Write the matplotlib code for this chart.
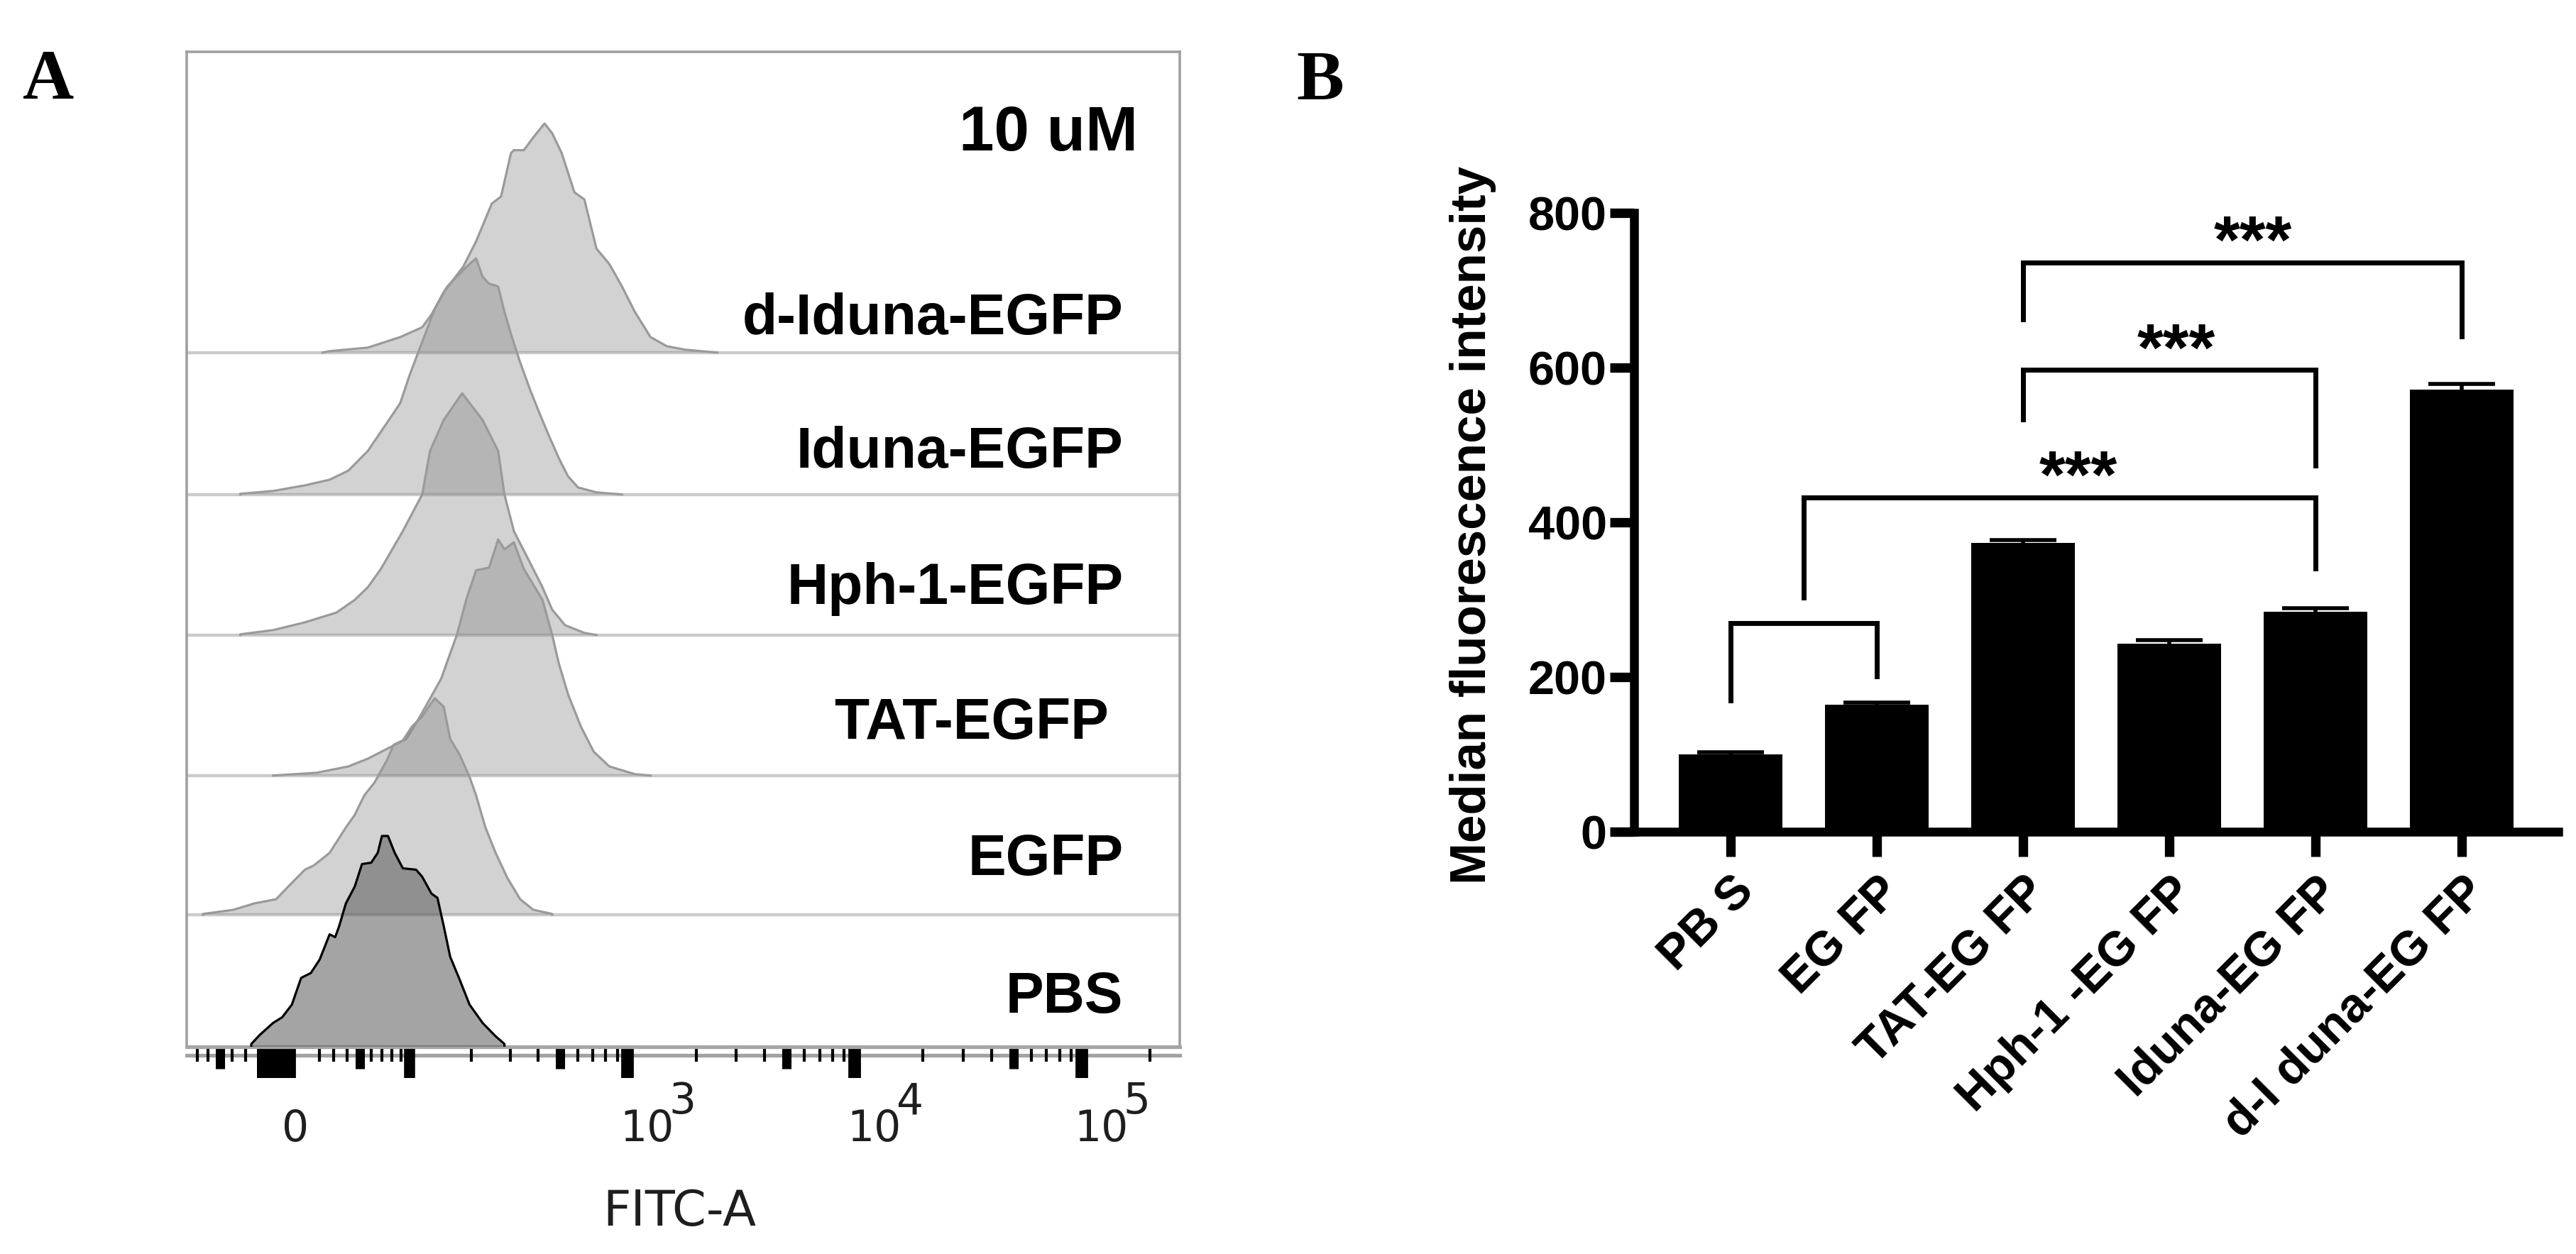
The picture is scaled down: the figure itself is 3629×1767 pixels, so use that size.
import numpy as np
import matplotlib
matplotlib.use('Agg')
import matplotlib.pyplot as plt
from matplotlib.transforms import blended_transform_factory
from matplotlib.lines import Line2D

plt.rcParams['font.family'] = ['Liberation Sans', 'DejaVu Sans']

W, H = 3629, 1767
DPI = 200
fig = plt.figure(figsize=(W / DPI, H / DPI), dpi=DPI)


def fx(px):
    return px / W


def fy(py):
    return 1 - py / H


# ---------------- Panel A data (FITC-A value, relative count) ----------------
hist_labels = ['PBS', 'EGFP', 'TAT-EGFP ', 'Hph-1-EGFP', 'Iduna-EGFP', 'd-Iduna-EGFP']

pbs_x = [-26, -20, -11, -5, 1.4, 7.5, 14, 20, 27, 31, 34, 39, 46, 52, 60, 66, 70, 76, 83, 92,
         108, 116, 129, 138, 148, 159, 176, 196, 225, 258, 283]
pbs_h = [0.02, 0.085, 0.17, 0.21, 0.30, 0.49, 0.525, 0.62, 0.80, 0.78, 0.86, 1.02, 1.14, 1.30,
         1.31, 1.38, 1.50, 1.50, 1.38, 1.27, 1.26, 1.21, 1.09, 1.06, 0.86, 0.64, 0.48, 0.30,
         0.17, 0.075, 0.02]

egfp_x = [-65, -39, -24, -9, -1, 10, 16, 27, 39, 46, 54, 63, 75, 82, 92, 103, 116, 125, 134,
          148, 159, 176, 196, 210, 232, 258, 292, 333, 381, 463]
egfp_h = [0.005, 0.035, 0.08, 0.11, 0.20, 0.32, 0.35, 0.44, 0.62, 0.71, 0.85, 0.94, 1.10, 1.21,
          1.24, 1.34, 1.41, 1.48, 1.54, 1.48, 1.25, 1.14, 0.98, 0.85, 0.62, 0.44, 0.26, 0.11,
          0.035, 0.005]

tat_x = [-11, 18, 41, 57, 75, 96, 112, 125, 144, 159, 171, 189, 210, 241, 265, 283, 312, 346,
         419, 463, 495, 544, 620, 707, 829, 1074, 1260]
tat_h = [0.0, 0.02, 0.065, 0.12, 0.19, 0.26, 0.41, 0.53, 0.69, 0.87, 1.0, 1.25, 1.46, 1.48,
         1.68, 1.61, 1.66, 1.47, 1.25, 1.0, 0.80, 0.58, 0.35, 0.17, 0.065, 0.01, 0.0]

hph_x = [-34, -11, 10, 32, 46, 57, 69, 92, 116, 127, 148, 181, 225, 265, 283, 312, 381, 419,
         463, 528, 643, 727]
hph_h = [0.005, 0.035, 0.09, 0.16, 0.25, 0.34, 0.47, 0.74, 1.0, 1.31, 1.53, 1.72, 1.53, 1.31,
         1.0, 0.74, 0.47, 0.34, 0.18, 0.07, 0.015, 0.0]

iduna_x = [-34, -11, 10, 27, 41, 57, 75, 89, 100, 112, 120, 134, 154, 176, 196, 210, 225, 241,
           265, 283, 303, 333, 370, 406, 447, 495, 544, 603, 727, 943]
iduna_h = [0.005, 0.025, 0.065, 0.105, 0.17, 0.31, 0.51, 0.65, 0.85, 1.03, 1.14, 1.32, 1.48,
           1.57, 1.64, 1.68, 1.55, 1.50, 1.48, 1.30, 1.14, 0.94, 0.74, 0.58, 0.42, 0.26, 0.13,
           0.05, 0.015, 0.0]

diduna_x = [22, 27, 57, 89, 116, 129, 148, 183, 210, 248, 273, 303, 312, 346, 381, 428, 463,
            510, 581, 643, 727, 829, 943, 1074, 1260, 1487, 1795, 2482]
diduna_h = [0.0, 0.01, 0.035, 0.11, 0.18, 0.27, 0.43, 0.61, 0.79, 1.06, 1.11, 1.42, 1.44, 1.44,
            1.53, 1.63, 1.56, 1.42, 1.14, 1.09, 0.74, 0.63, 0.47, 0.29, 0.11, 0.045, 0.02, 0.0]

hist_x = [pbs_x, egfp_x, tat_x, hph_x, iduna_x, diduna_x]
hist_h = [pbs_h, egfp_h, tat_h, hph_h, iduna_h, diduna_h]

# FlowJo-style biexponential axis ticks
fitc_labeled = [0, 1e3, 1e4, 1e5]
fitc_base_labels = ['0', '10', '10', '10']
fitc_exp_labels = ['', '3', '4', '5']
fitc_long = [100]
fitc_block = [-10]
fitc_medium = [-50, 50, 500, 5e3, 5e4]
fitc_minor = [-70, -60, -40, -30, -20, 20, 30, 40, 60, 70, 80, 90,
              200, 300, 400, 600, 700, 800, 900,
              2e3, 3e3, 4e3, 6e3, 7e3, 8e3, 9e3,
              2e4, 3e4, 4e4, 6e4, 7e4, 8e4, 9e4, 2e5]

# ---------------- Panel B data ----------------
groups = ['PB S', 'EG FP', 'TAT-EG FP', 'Hph-1 -EG FP', 'Iduna-EG FP', 'd-I duna-EG FP']
mfi = [100, 164, 373, 243, 284, 572]
mfi_err = [3, 3, 4, 5, 5, 7]
y_ticks = [0, 200, 400, 600, 800]

br_x1 = [0, 0.5, 2, 2]
br_x2 = [1, 4, 4, 5]
br_top = [270, 432, 597, 736]
br_left_bottom = [170, 303, 533, 662]
br_right_bottom = [201, 340, 473, 640]
star_x = [None, 2.38, 3.05, 3.57]
star_text = ['', '***', '***', '***']

# ======================= Panel A =======================
axA = fig.add_axes([fx(263), fy(1475), fx(1662) - fx(263), fy(73) - fy(1475)])
axA.set_xscale('asinh', linear_width=65)
axA.set_xlim(-81, 2.7e5)
axA.set_ylim(0, 7.08)
row_base = [0, 0.94, 1.93, 2.93, 3.93, 4.94]

for i in reversed(range(6)):
    x = np.r_[hist_x[i][0], hist_x[i], hist_x[i][-1]]
    h = np.r_[0, hist_h[i], 0]
    base = row_base[i]
    if i > 0:
        axA.axhline(base, color='#cbcbcb', lw=1.6, zorder=1)
        fc, al, ec = '#808080', 0.35, '#9a9a9a'
    else:
        fc, al, ec = '#5a5a5a', 0.55, 'black'
    z = 2 + (5 - i)
    axA.fill_between(x, base, base + h, facecolor=fc, alpha=al, lw=0, zorder=z)
    axA.plot(x, base + h, color=ec, lw=1.15, zorder=z + 0.5)

tr = blended_transform_factory(axA.transAxes, axA.transData)
lab_y = [0.24, 1.22, 2.19, 3.15, 4.12, 5.07]
for i, lab in enumerate(hist_labels):
    axA.text(0.943, lab_y[i], lab, transform=tr, ha='right', va='baseline',
             fontsize=29, fontweight='bold', color='black', zorder=20)
axA.text(0.958, 6.38, '10 uM', transform=tr, ha='right', va='baseline',
         fontsize=32, fontweight='bold', color='black', zorder=20)

for s in ['top', 'left', 'right']:
    axA.spines[s].set_color('#a0a0a0')
    axA.spines[s].set_linewidth(1.3)
axA.spines['bottom'].set_color('#a6a6a6')
axA.spines['bottom'].set_linewidth(1.9)
# second (lower) rule of the FlowJo axis
axA.add_line(Line2D([0, 1], [-12 / 1402, -12 / 1402], transform=axA.transAxes,
                    color='#a2a2a2', lw=1.9, clip_on=False, zorder=1))
axA.set_yticks([])

major_all = fitc_labeled + fitc_long + fitc_block + fitc_medium
axA.set_xticks(major_all, labels=[''] * len(major_all))
axA.set_xticks(fitc_minor, minor=True)
axA.tick_params(axis='x', which='major', direction='out', length=16, width=6.4, color='black')
axA.tick_params(axis='x', which='minor', direction='out', length=7.5, width=1.5, color='black')
ticks = axA.xaxis.get_major_ticks(len(major_all))
n0 = len(fitc_labeled)
ticks[n0].tick1line.set_markeredgewidth(5.6)                      # 10^2
ticks[n0 + 1].tick1line.set_markeredgewidth(18)                   # block around 0
for k in range(n0 + 2, len(major_all)):
    ticks[k].tick1line.set_markersize(11)
    ticks[k].tick1line.set_markeredgewidth(4.7)

trx = blended_transform_factory(axA.transData, axA.transAxes)
for v, b, e in zip(fitc_labeled, fitc_base_labels, fitc_exp_labels):
    axA.annotate(b, xy=(v, 0), xycoords=trx, xytext=(-4, -48), textcoords='offset points',
                 ha='left', va='baseline', fontsize=21.5, family='DejaVu Sans',
                 color='#1e1e1e', annotation_clip=False)
    if e:
        axA.annotate(e, xy=(v, 0), xycoords=trx, xytext=(21, -34), textcoords='offset points',
                     ha='left', va='baseline', fontsize=21.5, family='DejaVu Sans',
                     color='#1e1e1e', annotation_clip=False)

fig.text(fx(957), fy(1707), 'FITC-A', ha='center', va='center', fontsize=24.7,
         family='DejaVu Sans', color='#1e1e1e')

# ======================= Panel B =======================
axB = fig.add_axes([fx(2302), fy(1172), fx(3604) - fx(2302), fy(300) - fy(1172)])
pos = np.arange(len(groups))
axB.bar(pos, mfi, width=0.71, color='black', zorder=2,
        yerr=mfi_err, capsize=17, error_kw=dict(elinewidth=2, capthick=2, ecolor='black'))
axB.set_xlim(-0.66, 5.66)
axB.set_ylim(0, 800)
for s in ['top', 'right']:
    axB.spines[s].set_visible(False)
for s in ['left', 'bottom']:
    axB.spines[s].set_linewidth(4.5)
    axB.spines[s].set_capstyle('projecting')
axB.set_yticks(y_ticks)
axB.set_yticklabels([str(v) for v in y_ticks], fontsize=24, fontweight='bold')
axB.set_xticks(pos)
axB.set_xticklabels(groups, fontsize=24.5, fontweight='bold', rotation=45,
                    ha='right', va='top', rotation_mode='anchor')
axB.tick_params(axis='y', direction='out', length=12.3, width=4.8, pad=1.5)
axB.tick_params(axis='x', direction='out', length=12.6, width=4.8, pad=6)
axB.set_ylabel('Median fluorescence intensity', fontsize=25.5, fontweight='bold')
axB.yaxis.set_label_coords(-0.149, 0.495)

for i in range(len(br_x1)):
    axB.plot([br_x1[i], br_x1[i], br_x2[i], br_x2[i]],
             [br_left_bottom[i], br_top[i], br_top[i], br_right_bottom[i]],
             color='black', lw=2.5, solid_joinstyle='miter', clip_on=False, zorder=3)
    if star_text[i]:
        axB.text(star_x[i], br_top[i], star_text[i], ha='center', va='baseline',
                 fontsize=34, fontweight='bold', clip_on=False)

# panel letters
fig.text(fx(32), fy(139), 'A', fontsize=36, fontweight='bold',
         family=['Liberation Serif', 'DejaVu Serif'], va='baseline', ha='left')
fig.text(fx(1826), fy(139), 'B', fontsize=36, fontweight='bold',
         family=['Liberation Serif', 'DejaVu Serif'], va='baseline', ha='left')

fig.savefig('out.png', dpi=DPI)
